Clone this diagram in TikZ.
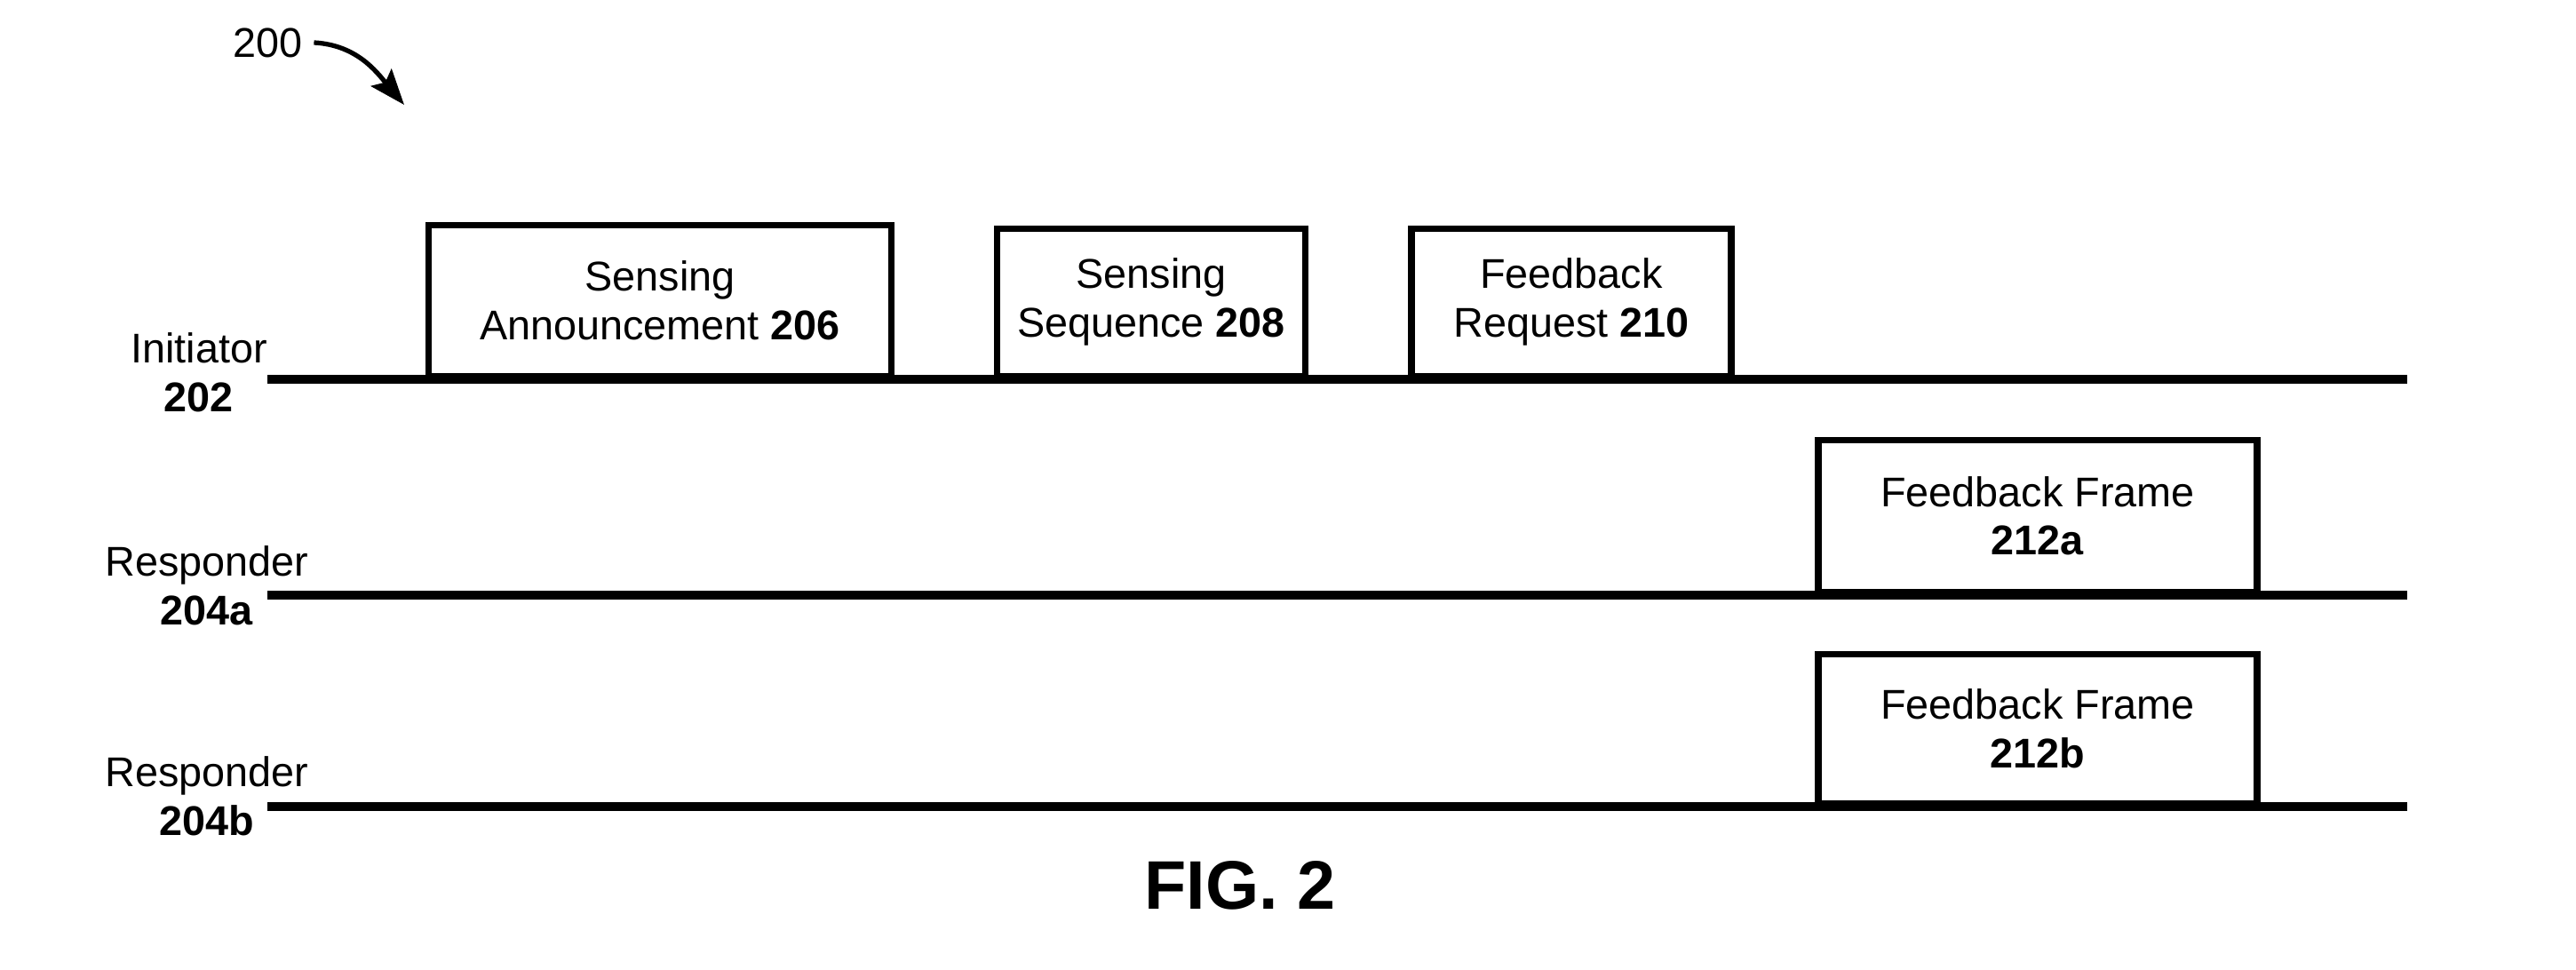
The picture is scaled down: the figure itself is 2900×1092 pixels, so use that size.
\documentclass[tikz,border=0pt]{standalone}
\usepackage{fontspec}
\setmainfont{Liberation Sans}
\usepackage{tikz}
\usetikzlibrary{arrows.meta,positioning}
\newcommand{\txtsize}{\fontsize{13.3}{15.6}\selectfont}
\tikzset{
  slot/.style={draw, line width=2.1pt, anchor=south, align=center, inner sep=0pt, font=\txtsize,
    execute at begin node={\rule{0pt}{12.8pt}}},
  track/.style={line width=2.7pt},
  who/.style={align=center, font=\txtsize}
}

\begin{document}
\begin{tikzpicture}[x=0.01cm,y=0.01cm]
\useasboundingbox (0,0) rectangle (2900,-1092);
% figure reference
\node[font=\txtsize] (fig200) at (302,-48) {200};
\coordinate (tip200) at (455,-118);
\draw[line width=1.5pt, -{Stealth[length=0.4cm,width=0.3cm,inset=0.07cm]}] (fig200.east) to[out=-3,in=130] (tip200);
% time lines
\coordinate (ini0) at (301,-427);
\coordinate (ini1) at (2710,-427);
\coordinate (rspa0) at (301,-670);
\coordinate (rspa1) at (2710,-670);
\coordinate (rspb0) at (301,-908);
\coordinate (rspb1) at (2710,-908);
\draw[track] (ini0) -- (ini1);
\draw[track] (rspa0) -- (rspa1);
\draw[track] (rspb0) -- (rspb1);
\node[who] (ini) at (224,-419) {Initiator\\\textbf{202}};
\node[who] (rspa) at (233,-659) {Responder\\\textbf{204a}};
\node[who] (rspb) at (233,-896) {Responder\\\textbf{204b}};
% frames
\node[slot, minimum width=5.21cm, minimum height=1.70cm] (ann) at (743,-427) {Sensing\\Announcement \textbf{206}};
\node[slot, minimum width=3.47cm, minimum height=1.66cm] (seq) at (1296,-427) {Sensing\\Sequence \textbf{208}};
\node[slot, minimum width=3.60cm, minimum height=1.66cm] (req) at (1769,-427) {Feedback\\Request \textbf{210}};
\node[slot, minimum width=4.94cm, minimum height=1.71cm] (fba) at (2294,-670) {Feedback Frame\\\textbf{212a}};
\node[slot, minimum width=4.94cm, minimum height=1.68cm] (fbb) at (2294,-908) {Feedback Frame\\\textbf{212b}};
\node[font=\bfseries\fontsize{22}{26}\selectfont] (cap) at (1396,-997) {FIG. 2};
\end{tikzpicture}
\end{document}
